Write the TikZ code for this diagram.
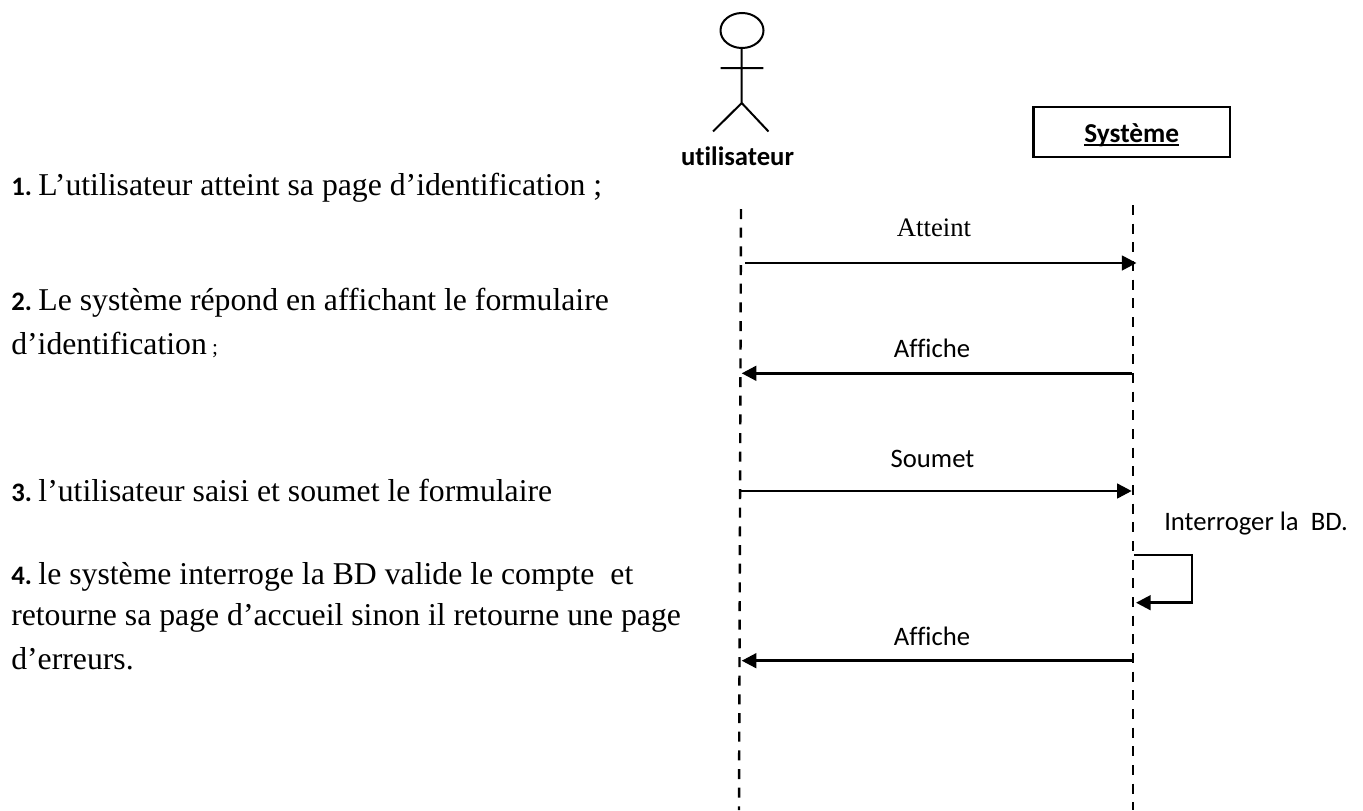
\documentclass[tikz,border=0pt]{standalone}
\usepackage{fontspec}
\setmainfont{Liberation Serif}
\newfontfamily\crl[Ligatures=NoCommon]{Carlito}
\usetikzlibrary{arrows.meta}
\tikzset{
 x=0.75pt,y=-0.75pt,
 life/.style={line width=1.8pt,dash pattern=on 7.5pt off 6.5pt},
 msg/.style={line width=2pt,-{Triangle[length=11pt,width=11pt]}},
 plain/.style={line width=1.5pt},
 bodytext/.style={anchor=base west,inner sep=0pt,font=\fontsize{23.8}{23.8}\selectfont},
 lab/.style={anchor=base,inner sep=0pt,font=\crl\fontsize{20}{20}\selectfont},
}
\newcommand{\nbr}[1]{{\crl\bfseries\fontsize{20}{20}\selectfont #1}\kern-3pt\relax}
\newcommand{\thickul}[1]{\setbox0\hbox{#1}\rlap{\raisebox{-3.2pt}{\rule{\wd0}{1.9pt}}}\box0}
\begin{document}
\begin{tikzpicture}
\useasboundingbox (0,0) rectangle (1363,810);
\fill[white] (0,0) rectangle (1363,810);
% actor
\draw[plain] (742,30.5) ellipse [x radius=21.5,y radius=17.5];
\coordinate (neck) at (741.7,48);
\coordinate (hip) at (741.7,103);
\coordinate (la) at (720.7,68); \coordinate (ra) at (763.3,68);
\coordinate (ll) at (713,131.5); \coordinate (rl) at (768.5,131.5);
\draw[plain] (neck)--(hip) (la)--(ra) (ll)--(hip)--(rl);
\node[lab,font=\crl\bfseries\fontsize{20}{20}\selectfont] (u) at (737.5,165) {utilisateur};
\node[draw,line width=1.7pt,minimum width=147.5pt,minimum height=37pt,inner sep=0pt] (s) at (1131.7,132) {};
\node[lab,font=\crl\bfseries\fontsize{20.5}{20.5}\selectfont] (st) at (1131.7,142) {\thickul{Système}};
% lifelines
\coordinate (l1) at (741,209); \coordinate (l1e) at (739,810);
\coordinate (l2) at (1133,205); \coordinate (l2e) at (1133,810);
\draw[life] (l1)--(l1e); \draw[life] (l2)--(l2e);
% messages
\coordinate (a1) at (745,263); \coordinate (b1) at (1136.5,263);
\draw[msg] (a1)--(b1);
\node[lab,font=\fontsize{20}{20}\selectfont] (t1) at (934,236) {Atteint};
\coordinate (a2) at (1132,373.3); \coordinate (b2) at (741.7,373.3);
\draw[msg] (a2)--(b2);
\node[lab] (t2) at (932,357.7) {Affiche};
\coordinate (a3) at (741,491); \coordinate (b3) at (1131.7,491);
\draw[msg] (a3)--(b3);
\node[lab] (t3) at (932.5,467.7) {Soumet};
\coordinate (a4) at (1134,555); \coordinate (c4) at (1192,555);
\coordinate (d4) at (1192,602.7); \coordinate (b4) at (1136,602.7);
\draw[msg,line join=miter] (a4)--(c4)--(d4)--(b4);
\node[lab] (t4) at (1256,530.7) {Interroger la~ BD.};
\coordinate (a5) at (1131.7,660.7); \coordinate (b5) at (741.7,660.7);
\draw[msg] (a5)--(b5);
\node[lab] (t5) at (932,645) {Affiche};
% text
\node[bodytext] (p1) at (11,195) {\nbr{1.} L’utilisateur atteint sa page d’identification ;};
\node[bodytext] (p2) at (11,310.7) {\nbr{2.} Le système répond en affichant le formulaire};
\node[bodytext] (p2b) at (11,354) {d’identification\,{\fontsize{16}{16}\selectfont;}};
\node[bodytext] (p3) at (11,501.7) {\nbr{3.} l’utilisateur saisi et soumet le formulaire};
\node[bodytext] (p4) at (11,584) {\nbr{4.} le système interroge la BD valide le compte~ et};
\node[bodytext] (p4b) at (11,625.7) {retourne sa page d’accueil sinon il retourne une page};
\node[bodytext] (p4c) at (11,669) {d’erreurs.};
\end{tikzpicture}
\end{document}
